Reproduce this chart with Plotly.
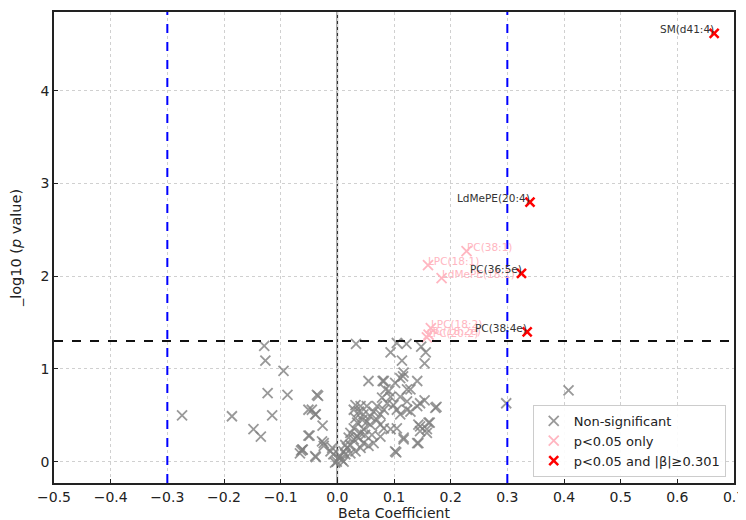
import plotly.graph_objects as go

# Non-significant (gray) points: beta, -log10(p)
ns_beta = [-0.274, -0.186, -0.129, -0.127, -0.095, -0.123, -0.088, -0.115, -0.148, -0.135,
           -0.062, -0.066, -0.051, -0.051, 0.033, 0.094, 0.114, 0.105, 0.122, 0.148,
           0.156, 0.154, 0.055, 0.080, 0.116, 0.141, -0.034, -0.045, -0.038, -0.026,
           -0.049, -0.064, -0.038, -0.024, -0.009, 0.173, 0.163, 0.154, 0.146, 0.141,
           0.117, 0.104, 0.158, 0.146, -0.036, -0.039, -0.027, -0.061, -0.039, -0.001,
           0.005, 0.011, 0.017, 0.023, 0.029, 0.035, 0.041, 0.023, 0.029, 0.035,
           0.032, 0.038, 0.041, 0.052, 0.046, 0.058, 0.052, 0.064, 0.070, 0.076,
           0.082, 0.079, 0.085, 0.091, 0.082, 0.102, 0.111, 0.117, 0.123, 0.129,
           0.099, 0.105, 0.111, 0.123, 0.129, 0.141, 0.175, 0.143, 0.161, 0.146,
           0.158, 0.143, 0.117, 0.105, 0.094, 0.082, 0.076, 0.064, 0.055, 0.046,
           0.041, 0.032, 0.023, 0.014, 0.008, 0.002, 0.102, 0.094, 0.088, 0.058,
           0.046, 0.038, 0.020, 0.014, -0.007, -0.012, -0.024, 0.029, 0.032, 0.044,
           0.070, 0.076, 0.049, 0.061, 0.011, -0.004, 0.123, 0.111, 0.298, 0.408]
ns_logp = [0.50, 0.49, 1.25, 1.09, 0.98, 0.74, 0.72, 0.50, 0.35, 0.27,
           0.13, 0.09, 0.56, 0.28, 1.27, 1.18, 1.09, 1.28, 1.27, 1.24,
           1.18, 1.06, 0.87, 0.87, 0.92, 0.87, 0.71, 0.56, 0.51, 0.39,
           0.28, 0.12, 0.05, 0.17, 0.15, 0.58, 0.42, 0.66, 0.63, 0.20,
           0.24, 0.10, 0.35, 0.38, 0.72, 0.51, 0.22, 0.13, 0.06, 0.00,
           0.06, 0.11, 0.15, 0.18, 0.24, 0.27, 0.31, 0.31, 0.36, 0.42,
           0.47, 0.54, 0.60, 0.60, 0.51, 0.49, 0.43, 0.54, 0.45, 0.51,
           0.56, 0.69, 0.78, 0.76, 0.87, 0.85, 0.90, 0.96, 0.78, 0.78,
           0.61, 0.56, 0.51, 0.56, 0.54, 0.60, 0.59, 0.40, 0.42, 0.33,
           0.31, 0.20, 0.26, 0.36, 0.35, 0.36, 0.27, 0.20, 0.17, 0.20,
           0.15, 0.11, 0.09, 0.08, 0.02, 0.04, 0.11, 0.70, 0.63, 0.40,
           0.35, 0.26, 0.26, 0.18, 0.08, 0.11, 0.20, 0.56, 0.61, 0.45,
           0.60, 0.40, 0.29, 0.29, 0.00, -0.01, 0.65, 0.70, 0.63, 0.77]

# p<0.05 only (pink)
pk_names = ["PC(38:1)", "LPC(18:1)", "LdMePE(18:1)", "LPC(18:2)", "PC(18:2e)", "LPC(20:2)"]
pk_beta = [0.228, 0.160, 0.184, 0.165, 0.161, 0.158]
pk_logp = [2.27, 2.12, 1.98, 1.44, 1.37, 1.34]

# p<0.05 and |beta|>=0.301 (red)
sig_names = ["SM(d41:4)", "LdMePE(20:4)", "PC(36:5e)", "PC(38:4e)"]
sig_beta = [0.665, 0.340, 0.325, 0.335]
sig_logp = [4.62, 2.80, 2.03, 1.40]

thr_beta = 0.3
thr_logp = 1.301

x_ticks = [-0.5, -0.4, -0.3, -0.2, -0.1, 0.0, 0.1, 0.2, 0.3, 0.4, 0.5, 0.6, 0.7]
x_ticklabels = ["\u22120.5", "\u22120.4", "\u22120.3", "\u22120.2", "\u22120.1", "0.0",
                "0.1", "0.2", "0.3", "0.4", "0.5", "0.6", "0.7"]
y_ticks = [0, 1, 2, 3, 4]

FONT = "DejaVu Sans"

fig = go.Figure()

# reference lines
fig.add_vline(x=0, line=dict(color="#333333", width=1.5), layer="below")
fig.add_vline(x=-thr_beta, line=dict(color="blue", width=2, dash="dash"))
fig.add_vline(x=thr_beta, line=dict(color="blue", width=2, dash="dash"))
fig.add_hline(y=thr_logp, line=dict(color="#111111", width=2, dash="dash"))

fig.add_trace(go.Scatter(
    x=ns_beta, y=ns_logp, mode="markers", name="Non-significant",
    marker=dict(symbol="x-thin", size=10, color="rgba(128,128,128,0.8)",
                line=dict(width=1.8, color="rgba(128,128,128,0.8)")),
))
fig.add_trace(go.Scatter(
    x=pk_beta, y=pk_logp, mode="markers", name="p<0.05 only",
    marker=dict(symbol="x-thin", size=10, color="#ffb6c1",
                line=dict(width=1.8, color="#ffb6c1")),
))
fig.add_trace(go.Scatter(
    x=sig_beta, y=sig_logp, mode="markers", name="p<0.05 and |\u03b2|\u22650.301",
    marker=dict(symbol="x-thin", size=9, color="red",
                line=dict(width=2.5, color="red")),
))

for n, b, p in zip(pk_names, pk_beta, pk_logp):
    fig.add_annotation(x=b, y=p, text=n, showarrow=False, xanchor="left",
                       yanchor="middle", yshift=4, xshift=-2,
                       font=dict(family=FONT, size=10.5, color="#ffb6c1"))
for n, b, p in zip(sig_names, sig_beta, sig_logp):
    fig.add_annotation(x=b, y=p, text=n, showarrow=False, xanchor="right",
                       yanchor="middle", yshift=4, xshift=2,
                       font=dict(family=FONT, size=10.5, color="#333333"))

axis_common = dict(
    showline=True, linecolor="#222222", linewidth=1.5, mirror=True,
    ticks="inside", ticklen=4, tickcolor="#222222", tickwidth=1.2,
    showgrid=True, gridcolor="#d0d0d0", griddash="dot", gridwidth=1,
    zeroline=False, tickfont=dict(family=FONT, size=14, color="#222222"),
)

fig.update_xaxes(range=[-0.5, 0.7], tickvals=x_ticks, ticktext=x_ticklabels,
                 title=dict(text="Beta Coefficient", font=dict(family=FONT, size=14, color="#222222"),
                            standoff=2),
                 automargin=False, **axis_common)
fig.update_yaxes(range=[-0.23, 4.85], tickvals=y_ticks,
                 title=dict(text="_log10 (<i>p</i> value)", font=dict(family=FONT, size=14.5, color="#222222"),
                            standoff=20),
                 automargin=False, **axis_common)

# page body has an 8px margin; offsets below place the plot area at the reference position
fig.update_layout(
    width=746, height=520,
    margin=dict(l=46, r=20, t=4, b=45),
    plot_bgcolor="white", paper_bgcolor="white",
    font=dict(family=FONT, size=13, color="#222222"),
    legend=dict(x=0.704, y=0.013, xanchor="left", yanchor="bottom",
                bgcolor="rgba(255,255,255,0.9)", bordercolor="#cccccc", borderwidth=1,
                font=dict(family=FONT, size=13), itemwidth=30),
    showlegend=True,
)

fig.write_html("out.html")
